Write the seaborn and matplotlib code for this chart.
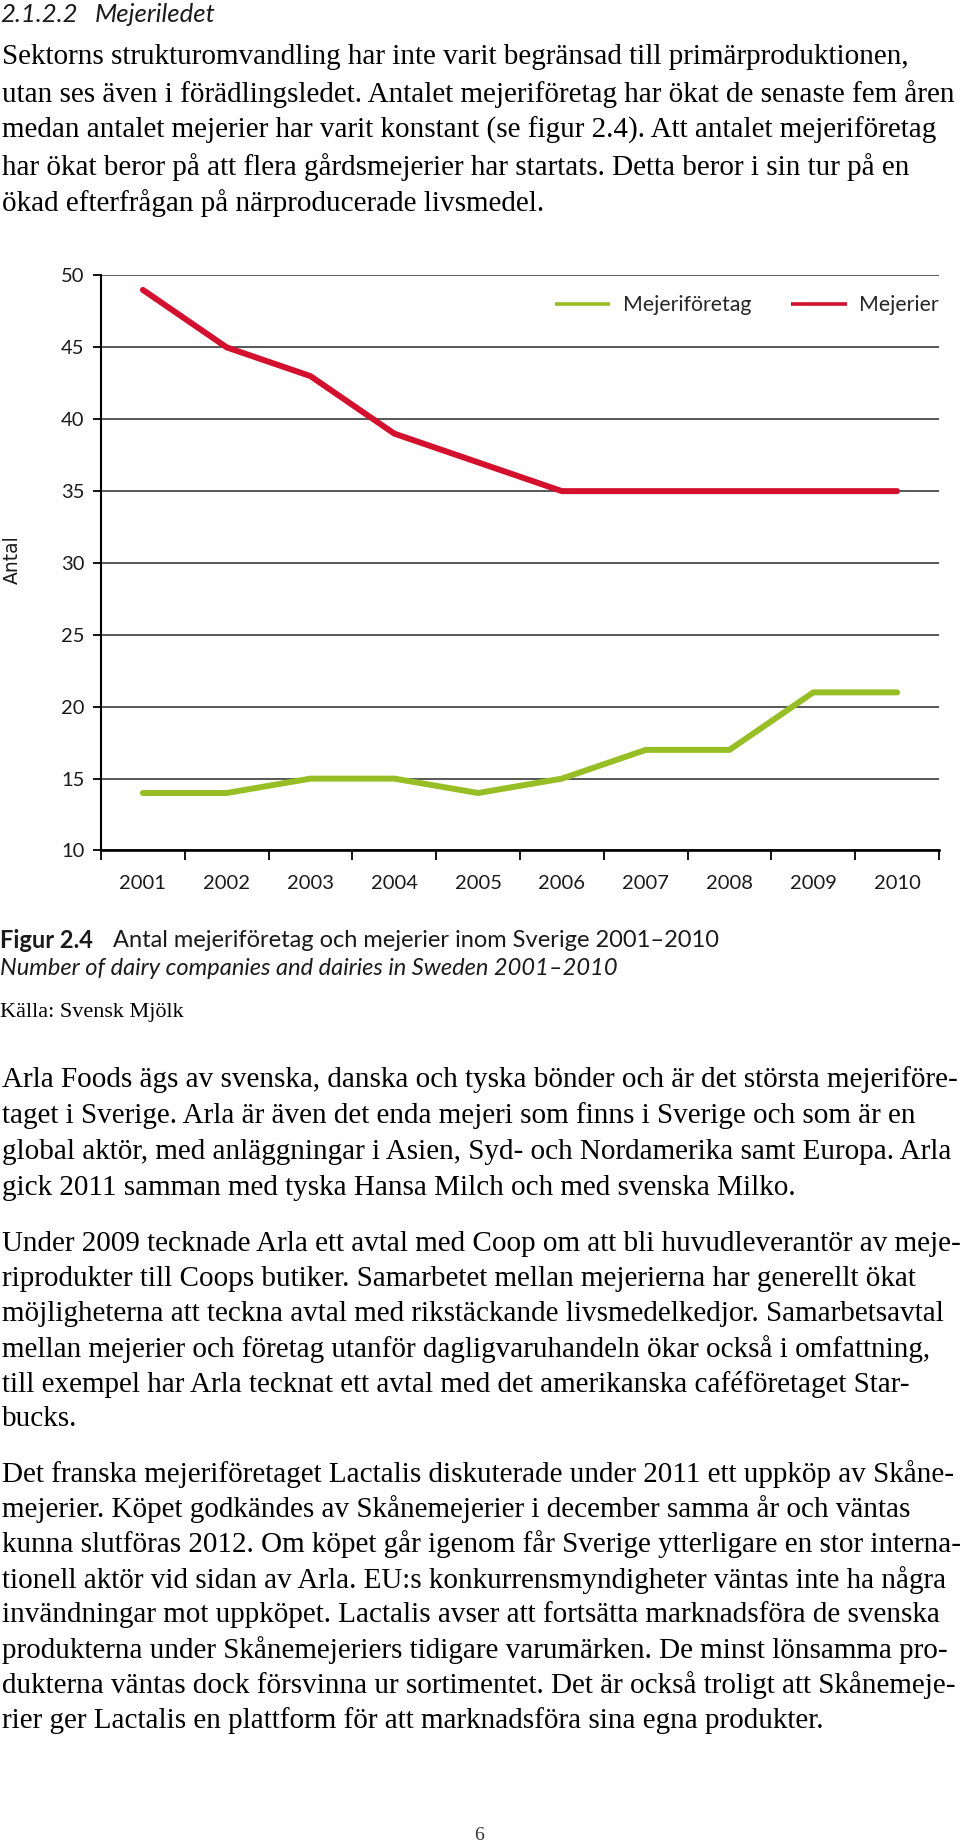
import numpy as np
import pandas as pd
import seaborn as sns
import matplotlib.pyplot as plt

# data
years = [2001, 2002, 2003, 2004, 2005, 2006, 2007, 2008, 2009, 2010]
mejeriforetag = [14, 14, 15, 15, 14, 15, 17, 17, 21, 21]
mejerier = [49, 45, 43, 39, 37, 35, 35, 35, 35, 35]
series_names = ["Mejeriföretag", "Mejerier"]
colors = {"Mejeriföretag": "#98BE25", "Mejerier": "#D3102D"}

para1 = [
    "Sektorns strukturomvandling har inte varit begränsad till primärproduktionen,",
    "utan ses även i förädlingsledet. Antalet mejeriföretag har ökat de senaste fem åren",
    "medan antalet mejerier har varit konstant (se figur 2.4). Att antalet mejeriföretag",
    "har ökat beror på att flera gårdsmejerier har startats. Detta beror i sin tur på en",
    "ökad efterfrågan på närproducerade livsmedel.",
]
para2 = [
    "Arla Foods ägs av svenska, danska och tyska bönder och är det största mejeriföre-",
    "taget i Sverige. Arla är även det enda mejeri som finns i Sverige och som är en",
    "global aktör, med anläggningar i Asien, Syd- och Nordamerika samt Europa. Arla",
    "gick 2011 samman med tyska Hansa Milch och med svenska Milko.",
]
para3 = [
    "Under 2009 tecknade Arla ett avtal med Coop om att bli huvudleverantör av meje-",
    "riprodukter till Coops butiker. Samarbetet mellan mejerierna har generellt ökat",
    "möjligheterna att teckna avtal med rikstäckande livsmedelkedjor. Samarbetsavtal",
    "mellan mejerier och företag utanför dagligvaruhandeln ökar också i omfattning,",
    "till exempel har Arla tecknat ett avtal med det amerikanska caféföretaget Star-",
    "bucks.",
]
para4 = [
    "Det franska mejeriföretaget Lactalis diskuterade under 2011 ett uppköp av Skåne-",
    "mejerier. Köpet godkändes av Skånemejerier i december samma år och väntas",
    "kunna slutföras 2012. Om köpet går igenom får Sverige ytterligare en stor interna-",
    "tionell aktör vid sidan av Arla. EU:s konkurrensmyndigheter väntas inte ha några",
    "invändningar mot uppköpet. Lactalis avser att fortsätta marknadsföra de svenska",
    "produkterna under Skånemejeriers tidigare varumärken. De minst lönsamma pro-",
    "dukterna väntas dock försvinna ur sortimentet. Det är också troligt att Skånemeje-",
    "rier ger Lactalis en plattform för att marknadsföra sina egna produkter.",
]

df = pd.DataFrame({
    "År": years * 2,
    "Antal": mejeriforetag + mejerier,
    "Serie": [series_names[0]] * len(years) + [series_names[1]] * len(years),
})

sns.set_theme(style="white")
W, H = 960, 1847
fig = plt.figure(figsize=(W / 100, H / 100), dpi=100)

SANS = ["Lato", "DejaVu Sans"]
SERIF = ["Liberation Serif", "DejaVu Serif"]


def put(x, y, s, **kw):
    # place text using pixel coords measured from the top-left corner
    return fig.text(x / W, 1 - y / H, s, **kw)


# ---- chart ----
ax = fig.add_axes([101 / W, 1 - 850.5 / H, 838 / W, 575 / H])
sns.lineplot(data=df, x="År", y="Antal", hue="Serie", palette=colors,
             linewidth=4.3, ax=ax, zorder=3)

ax.set_xlim(2000.5, 2010.5)
ax.set_ylim(10, 50)
ax.set_yticks(range(10, 51, 5))
ax.set_xticks(years)
ax.set_xticks(np.arange(2000.5, 2011, 1), minor=True)
ax.set_xlabel("")
ax.set_ylabel("")
ax.yaxis.grid(True, color="#4a4a4a", linewidth=1.3)
ax.set_axisbelow(True)
for side in ["top", "right"]:
    ax.spines[side].set_visible(False)
ax.spines["left"].set_color("black")
ax.spines["left"].set_linewidth(1.5)
ax.spines["bottom"].set_color("black")
ax.spines["bottom"].set_linewidth(1.9)
ax.tick_params(axis="y", length=6, width=1.3, color="black", pad=6,
               labelsize=14.5, direction="out", left=True)
ax.tick_params(axis="x", which="major", length=0, pad=18, labelsize=14.5)
ax.tick_params(axis="x", which="minor", length=7, width=1.3, color="black",
               direction="out", bottom=True)
for lab in ax.get_xticklabels() + ax.get_yticklabels():
    lab.set_family(SANS)
    lab.set_color("#1a1a1a")

leg = ax.legend(loc="center right", bbox_to_anchor=(1.0, 0.9487), ncol=2,
                frameon=False, borderaxespad=0, borderpad=0,
                handlelength=2.6, handletextpad=0.6, columnspacing=1.9,
                prop={"family": SANS, "size": 15.3})
for line in leg.get_lines():
    line.set_linewidth(2.6)
    line.set_solid_capstyle("butt")

put(12, 560, "Antal", rotation=90, ha="center", va="center",
    fontsize=13.5, family="DejaVu Sans", color="#1a1a1a")

# ---- page text ----
put(0, 15, "2.1.2.2", ha="left", va="center", fontsize=18.5,
    style="italic", family=SANS, color="#1a1a1a")
put(95, 15, "Mejeriledet", ha="left", va="center", fontsize=18.5,
    style="italic", family=SANS, color="#1a1a1a")


def para(lines, y0, dy):
    for i, s in enumerate(lines):
        put(2, y0 + i * dy, s, ha="left", va="center", fontsize=21,
            family=SERIF, color="black")


para(para1, 57, 36.6)
para(para2, 1080, 35.9)
para(para3, 1244, 35.1)
para(para4, 1474, 35.2)

put(0, 940, "Figur 2.4", ha="left", va="center", fontsize=17,
    weight="bold", family=SANS, color="#1a1a1a")
put(113, 940, "Antal mejeriföretag och mejerier inom Sverige 2001–2010",
    ha="left", va="center", fontsize=17, family=SANS, color="#1a1a1a")
put(0, 968, "Number of dairy companies and dairies in Sweden 2001–2010",
    ha="left", va="center", fontsize=17, style="italic", family=SANS,
    color="#1a1a1a")
put(0, 1013, "Källa: Svensk Mjölk", ha="left", va="center", fontsize=16,
    family=SERIF, color="black")

put(479, 1836, "6", ha="center", va="center", fontsize=14, family=SERIF,
    color="#333333")

fig.savefig("out.png", dpi=100, facecolor="white")
